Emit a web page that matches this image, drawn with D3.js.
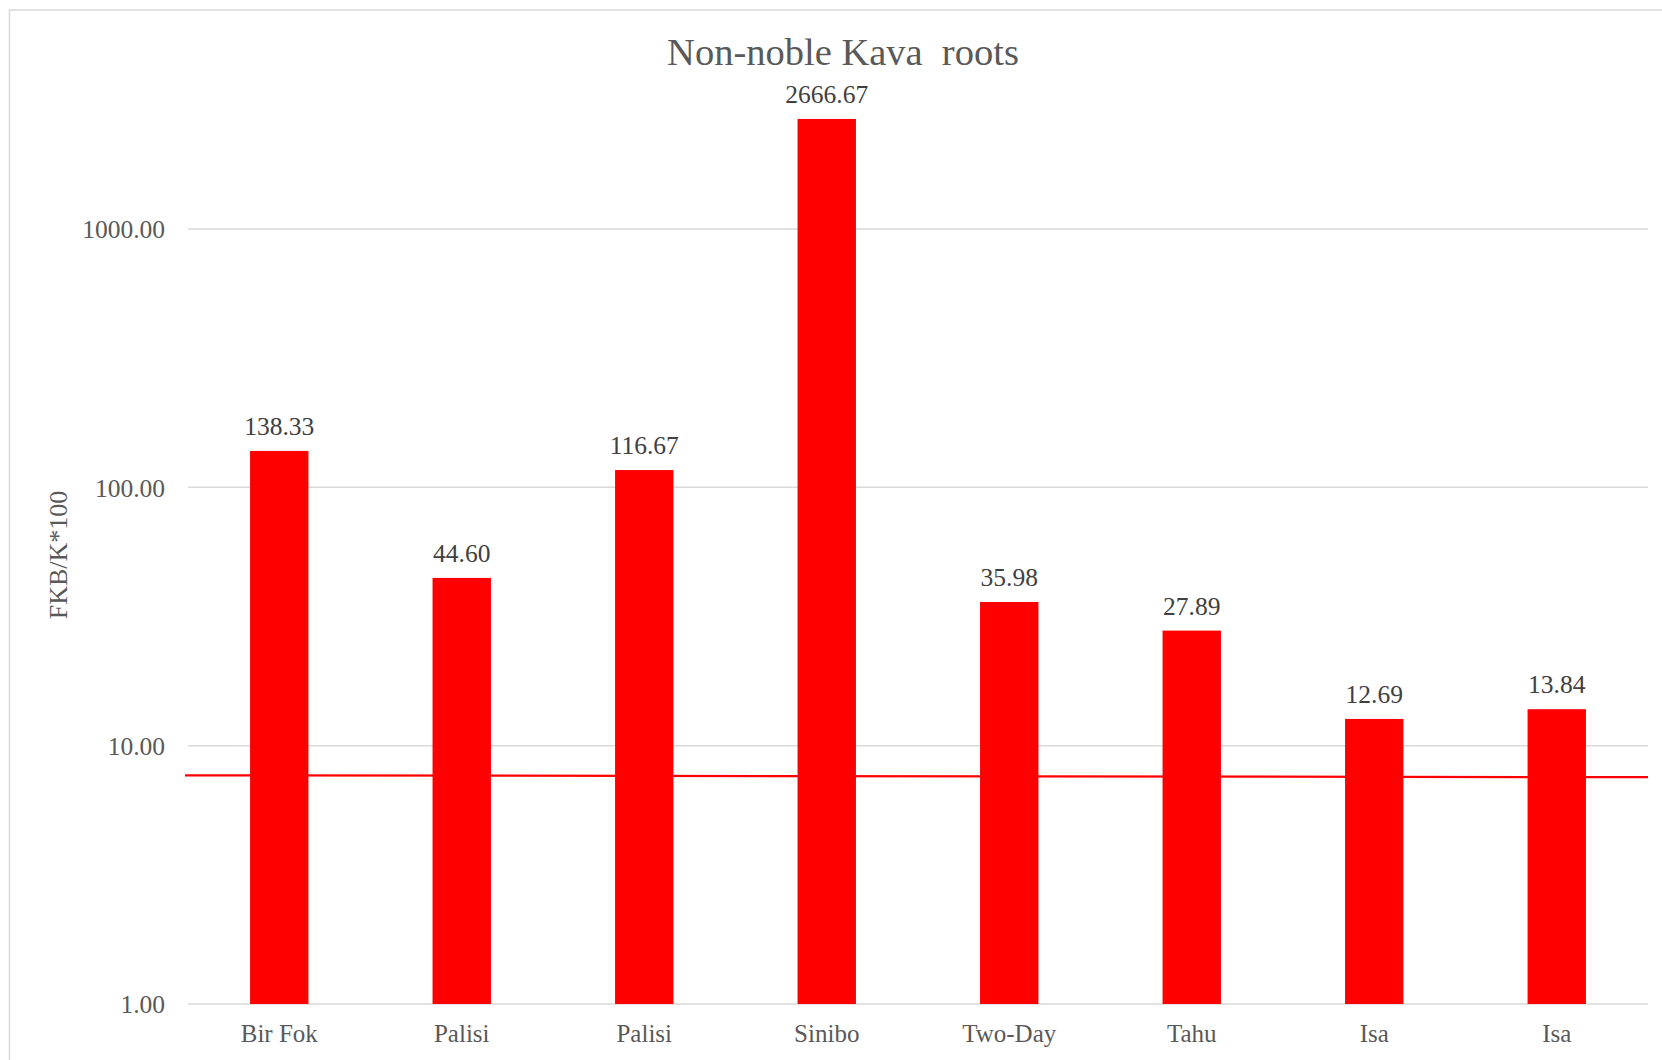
<!DOCTYPE html>
<html>
<head>
<meta charset="utf-8">
<script src="https://cdn.jsdelivr.net/npm/d3@7"></script>
<style>
  html, body { margin: 0; padding: 0; background: #ffffff; }
  svg { display: block; }
  text { font-family: "Liberation Serif", "Times New Roman", serif; }
</style>
</head>
<body>
<svg id="chart" width="1662" height="1060"></svg>
<script>
// Kava root samples and their FKB/K*100 ratio
const categories = ["Bir Fok", "Palisi", "Palisi", "Sinibo", "Two-Day", "Tahu", "Isa", "Isa"];
const values = [138.33, 44.60, 116.67, 2666.67, 35.98, 27.89, 12.69, 13.84];
// Reference line across the plot (value at left edge, value at right edge)
const referenceLine = [7.68, 7.55];
// Log-axis ticks
const yTicks = [1, 10, 100, 1000];
const title = "Non-noble Kava  roots";
const yTitle = "FKB/K*100";

const svg = d3.select("#chart");
const W = 1662, H = 1060;
const plot = { left: 188, right: 1648, top: 229, bottom: 1004 };

// Outer chart border
svg.append("rect")
  .attr("x", 9.5).attr("y", 10)
  .attr("width", W + 20).attr("height", H + 20)
  .attr("fill", "#ffffff")
  .attr("stroke", "#d9d9d9").attr("stroke-width", 1.5);

const y = d3.scaleLog().domain([1, 1000]).range([plot.bottom, plot.top]);
const x = d3.scaleBand()
  .domain(d3.range(categories.length))
  .range([plot.left, plot.right])
  .padding(0);
const barW = x.bandwidth() * 0.32;

// Gridlines
svg.append("g")
  .selectAll("line")
  .data(yTicks)
  .join("line")
  .attr("x1", plot.left).attr("x2", plot.right)
  .attr("y1", d => y(d)).attr("y2", d => y(d))
  .attr("stroke", "#d9d9d9").attr("stroke-width", 1.5);

// Y axis tick labels
const yAxis = d3.axisLeft(y).tickValues(yTicks).tickFormat(d3.format(".2f")).tickSize(0).tickPadding(0);
const gy = svg.append("g").attr("transform", `translate(${plot.left - 23},0)`).call(yAxis);
gy.select(".domain").remove();
gy.selectAll("text")
  .attr("font-family", "Liberation Serif, serif")
  .attr("font-size", 25.5)
  .attr("fill", "#595959")
  .attr("dy", "0.34em");

// Reference line (drawn beneath the bars)
const lx = d3.scaleLinear().domain([0, 1]).range([185, plot.right]);
svg.append("path")
  .datum(referenceLine)
  .attr("d", d3.line().x((d, i) => lx(i)).y(d => y(d)))
  .attr("fill", "none")
  .attr("stroke", "#ff0000")
  .attr("stroke-width", 2.2);

// Bars
svg.append("g")
  .selectAll("rect")
  .data(values)
  .join("rect")
  .attr("x", (d, i) => x(i) + x.bandwidth() / 2 - barW / 2)
  .attr("y", d => y(d))
  .attr("width", barW)
  .attr("height", d => y(1) - y(d))
  .attr("fill", "#ff0000");

// Value labels
svg.append("g")
  .selectAll("text")
  .data(values)
  .join("text")
  .attr("x", (d, i) => x(i) + x.bandwidth() / 2)
  .attr("y", d => y(d) - 16)
  .attr("text-anchor", "middle")
  .attr("font-size", 25.5)
  .attr("fill", "#404040")
  .text(d => d3.format(".2f")(d));

// Category labels
const xAxis = d3.axisBottom(x).tickFormat(i => categories[i]).tickSize(0).tickPadding(0);
const gx = svg.append("g").attr("transform", `translate(0,${plot.bottom})`).call(xAxis);
gx.select(".domain").remove();
gx.selectAll("text")
  .attr("font-family", "Liberation Serif, serif")
  .attr("font-size", 25)
  .attr("fill", "#595959")
  .attr("dy", null)
  .attr("y", 38);

// Titles
svg.append("text")
  .attr("x", 843).attr("y", 65)
  .attr("text-anchor", "middle")
  .attr("font-size", 38.5)
  .attr("fill", "#595959")
  .style("white-space", "pre")
  .text(title);

svg.append("text")
  .attr("transform", `translate(67,555) rotate(-90)`)
  .attr("text-anchor", "middle")
  .attr("font-size", 26)
  .attr("fill", "#595959")
  .text(yTitle);
</script>
</body>
</html>
